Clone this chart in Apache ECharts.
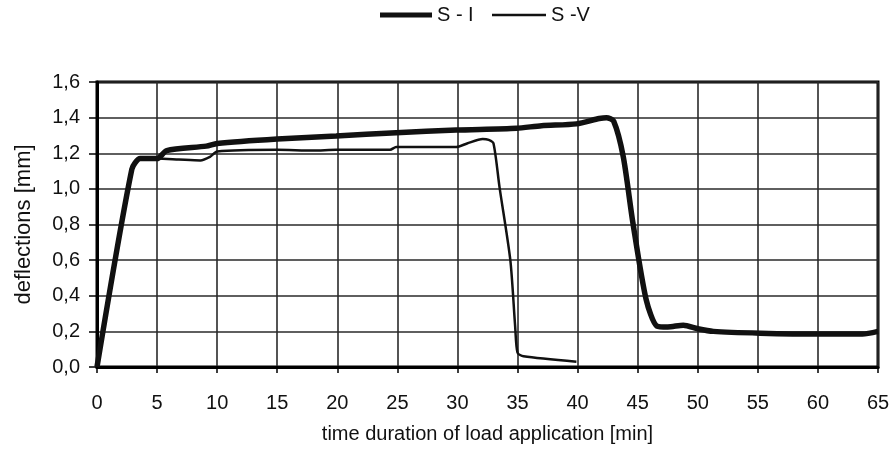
<!DOCTYPE html>
<html><head><meta charset="utf-8">
<script src="https://cdn.jsdelivr.net/npm/echarts@6/dist/echarts.min.js"></script>
<style>html,body{margin:0;padding:0;background:#fff}#c{width:895px;height:454px}</style>
</head><body><div id="c"></div>
<script>
const seriesNames = ['S - I', 'S -V'];
const xTicks = [0,5,10,15,20,25,30,35,40,45,50,55,60,65];
const yTicks = [0,0.2,0.4,0.6,0.8,1.0,1.2,1.4,1.6];
const timeSI = [0, 2.9, 3.6, 5.0, 5.8, 9.1, 10.0, 15.0, 19.9, 24.9, 29.9, 34.9, 37.0, 39.9, 41.8, 42.4, 43.0, 43.8, 44.6, 45.7, 46.6, 47.5, 48.8, 50.0, 51.3, 55.2, 60.1, 63.7, 65.0];
const defSI  = [0, 1.11, 1.17, 1.17, 1.215, 1.24, 1.255, 1.28, 1.297, 1.315, 1.33, 1.34, 1.355, 1.365, 1.395, 1.40, 1.38, 1.18, 0.81, 0.38, 0.23, 0.225, 0.235, 0.215, 0.20, 0.19, 0.185, 0.185, 0.20];
const timeSV = [0, 2.9, 3.6, 5.0, 6.8, 8.6, 9.4, 10.0, 15.0, 18.0, 19.9, 24.4, 24.9, 29.9, 30.8, 32.1, 32.6, 33.0, 33.5, 34.4, 34.8, 35.0, 35.5, 39.9];
const defSV  = [0, 1.11, 1.17, 1.17, 1.165, 1.16, 1.18, 1.21, 1.22, 1.215, 1.22, 1.22, 1.235, 1.235, 1.255, 1.28, 1.275, 1.255, 1.01, 0.6, 0.23, 0.08, 0.06, 0.03];

const pair = (xs, ys) => xs.map((x, i) => [x, ys[i]]);
const font = 'Liberation Sans, Arial, sans-serif';
const txt = {fontFamily: font, fontSize: 20, color: '#111'};
const chart = echarts.init(document.getElementById('c'), null, {renderer: 'canvas'});
chart.setOption({
  animation: false,
  backgroundColor: '#fff',
  legend: [
    {data: [seriesNames[0]], left: 380, top: 5, padding: 0, icon: 'rect', itemWidth: 52, itemHeight: 5,
     itemStyle: {color: '#111'}, textStyle: txt},
    {data: [seriesNames[1]], left: 492, top: 5, padding: 0, icon: 'rect', itemWidth: 54, itemHeight: 2.5,
     itemStyle: {color: '#111'}, textStyle: txt}
  ],
  grid: {left: 97, right: 17, top: 82, bottom: 87, show: true, borderColor: '#000', borderWidth: 3,
         containLabel: false, outerBoundsMode: 'none'},
  xAxis: {
    type: 'value', min: 0, max: 65, interval: 5,
    name: 'time duration of load application [min]', nameLocation: 'middle', nameGap: 57,
    nameTextStyle: txt,
    axisLine: {lineStyle: {color: '#000', width: 3}},
    axisTick: {show: true, length: 6, lineStyle: {color: '#000', width: 1.5}},
    axisLabel: Object.assign({margin: 26, formatter: v => xTicks.includes(v) ? String(v) : ''}, txt),
    splitLine: {show: true, lineStyle: {color: '#2a2a2a', width: 1.6}}
  },
  yAxis: {
    type: 'value', min: 0, max: 1.6, interval: 0.2,
    name: 'deflections [mm]', nameLocation: 'middle', nameGap: 62, nameRotate: 90,
    nameTextStyle: Object.assign({}, txt, {fontSize: 22}),
    axisLine: {show: true, lineStyle: {color: '#000', width: 3}},
    axisTick: {show: true, length: 8, lineStyle: {color: '#000', width: 1.5}},
    axisLabel: Object.assign({margin: 17, formatter: v => {
        const t = yTicks.find(y => Math.abs(y - v) < 1e-6);
        return t === undefined ? '' : t.toFixed(1).replace('.', ',');
      }}, txt),
    splitLine: {show: true, lineStyle: {color: '#2a2a2a', width: 1.6}}
  },
  series: [
    {name: seriesNames[0], type: 'line', data: pair(timeSI, defSI), symbol: 'none', smooth: 0.25,
     lineStyle: {color: '#111', width: 5.5}, itemStyle: {color: '#111'}, z: 3},
    {name: seriesNames[1], type: 'line', data: pair(timeSV, defSV), symbol: 'none', smooth: 0.25,
     lineStyle: {color: '#111', width: 2.5}, itemStyle: {color: '#111'}, z: 4}
  ]
});
</script></body></html>
